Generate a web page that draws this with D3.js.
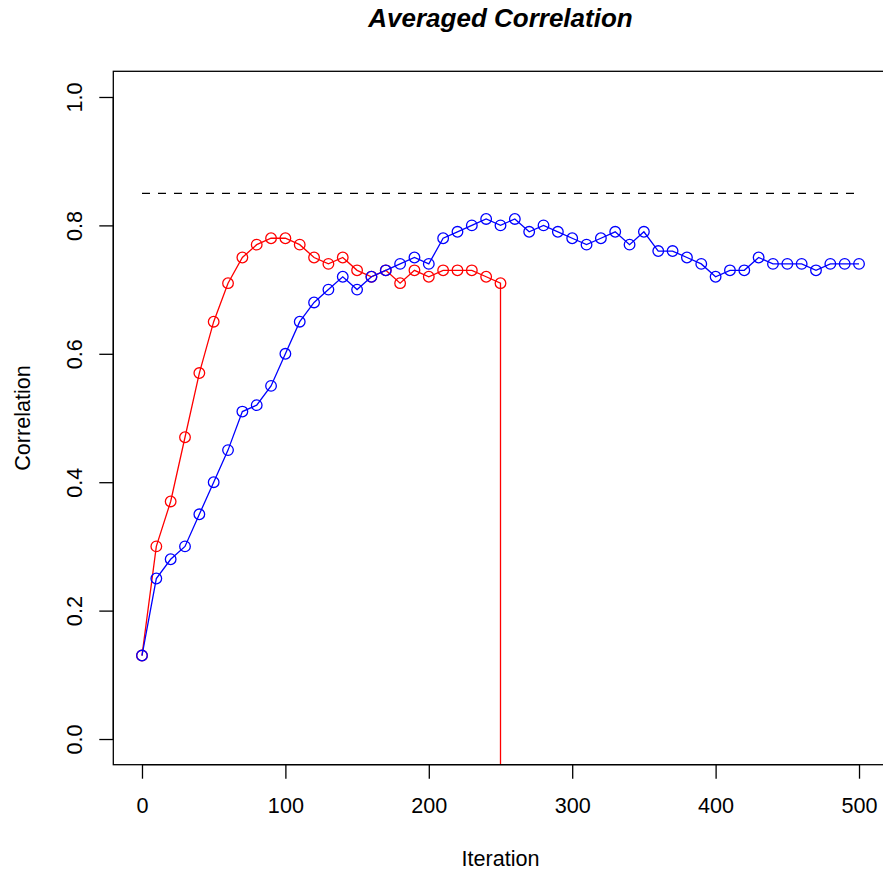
<!DOCTYPE html>
<html>
<head>
<meta charset="utf-8">
<script src="https://cdn.jsdelivr.net/npm/d3@7"></script>
<style>
  body { margin: 0; background: #fff; }
  text { font-family: "Liberation Sans", Arial, sans-serif; }
</style>
</head>
<body>
<svg id="chart"></svg>
<script>
// data
var blueIter = d3.range(0, 501, 10);
var blueVals = [0.13, 0.25, 0.28, 0.30, 0.35, 0.40, 0.45, 0.51, 0.52, 0.55,
                0.60, 0.65, 0.68, 0.70, 0.72, 0.70, 0.72, 0.73, 0.74, 0.75,
                0.74, 0.78, 0.79, 0.80, 0.81, 0.80, 0.81, 0.79, 0.80, 0.79,
                0.78, 0.77, 0.78, 0.79, 0.77, 0.79, 0.76, 0.76, 0.75, 0.74,
                0.72, 0.73, 0.73, 0.75, 0.74, 0.74, 0.74, 0.73, 0.74, 0.74,
                0.74];
// the red run stops at 250 and drops straight off the bottom of the plot
var redIter = d3.range(0, 251, 10).concat([250]);
var redVals = [0.13, 0.30, 0.37, 0.47, 0.57, 0.65, 0.71, 0.75, 0.77, 0.78,
               0.78, 0.77, 0.75, 0.74, 0.75, 0.73, 0.72, 0.73, 0.71, 0.73,
               0.72, 0.73, 0.73, 0.73, 0.72, 0.71, -1];
var refLevel = 0.85;
var xTicks = [0, 100, 200, 300, 400, 500];
var yTicks = [0.0, 0.2, 0.4, 0.6, 0.8, 1.0];

var W = 883, H = 874;

// R style: 4% padding around the data range
var x = d3.scaleLinear().domain([-20, 520]).range([113.3, 887.7]);
var y = d3.scaleLinear().domain([-0.04, 1.04]).range([764.7, 71.3]);

var svg = d3.select("#chart")
    .attr("width", W)
    .attr("height", H);

svg.append("clipPath").attr("id", "plotclip")
  .append("rect")
    .attr("x", x.range()[0]).attr("y", y.range()[1])
    .attr("width", x.range()[1] - x.range()[0])
    .attr("height", y.range()[0] - y.range()[1]);

var plot = svg.append("g").attr("clip-path", "url(#plotclip)");

function series(iter, vals, color) {
    var pts = iter.map(function(d, i) { return {x: d, y: vals[i]}; });
    var line = d3.line()
        .x(function(d) { return x(d.x); })
        .y(function(d) { return y(d.y); });
    plot.append("path")
        .datum(pts)
        .attr("d", line)
        .attr("fill", "none")
        .attr("stroke", color)
        .attr("stroke-width", 1.3);
    plot.selectAll(null)
        .data(pts)
        .enter().append("circle")
        .attr("cx", function(d) { return x(d.x); })
        .attr("cy", function(d) { return y(d.y); })
        .attr("r", 5.3)
        .attr("fill", "none")
        .attr("stroke", color)
        .attr("stroke-width", 1.3);
}

series(redIter, redVals, "#ff0000");
series(blueIter, blueVals, "#0000ff");

// reference level
plot.append("line")
    .attr("x1", x(0)).attr("x2", x(500))
    .attr("y1", y(refLevel)).attr("y2", y(refLevel))
    .attr("stroke", "#000")
    .attr("stroke-width", 1.3)
    .attr("stroke-dasharray", "8,8");

// box
svg.append("rect")
    .attr("x", x.range()[0]).attr("y", y.range()[1])
    .attr("width", x.range()[1] - x.range()[0])
    .attr("height", y.range()[0] - y.range()[1])
    .attr("fill", "none")
    .attr("stroke", "#000")
    .attr("stroke-width", 1.3);

// x axis
var xAxis = svg.append("g")
    .attr("transform", "translate(0," + y.range()[0] + ")")
    .call(d3.axisBottom(x).tickValues(xTicks).tickSize(14)
        .tickFormat(d3.format("d")));
xAxis.select(".domain").attr("d", "M" + x(0) + ",0H" + x(500)).attr("stroke-width", 1.3);
xAxis.selectAll(".tick line").attr("stroke-width", 1.3);
xAxis.selectAll("text")
    .attr("y", 48.3).attr("dy", null)
    .attr("font-size", 21.6)
    .attr("font-family", "Liberation Sans, Arial, sans-serif");

// y axis, labels turned like R's default
var yAxis = svg.append("g")
    .attr("transform", "translate(" + x.range()[0] + ",0)")
    .call(d3.axisLeft(y).tickValues(yTicks).tickSize(14)
        .tickFormat(d3.format(".1f")));
yAxis.select(".domain").attr("d", "M0," + y(0) + "V" + y(1)).attr("stroke-width", 1.3);
yAxis.selectAll(".tick line").attr("stroke-width", 1.3);
yAxis.selectAll("text")
    .attr("x", null).attr("dy", null)
    .attr("transform", "translate(-31.3,0) rotate(-90)")
    .attr("text-anchor", "middle")
    .attr("font-size", 21.6)
    .attr("font-family", "Liberation Sans, Arial, sans-serif");

// titles
svg.append("text")
    .attr("x", (x.range()[0] + x.range()[1]) / 2)
    .attr("y", 27)
    .attr("text-anchor", "middle")
    .attr("font-size", 26)
    .attr("font-weight", "bold")
    .attr("font-style", "italic")
    .text("Averaged Correlation");

svg.append("text")
    .attr("x", (x.range()[0] + x.range()[1]) / 2)
    .attr("y", 866)
    .attr("text-anchor", "middle")
    .attr("font-size", 21.6)
    .text("Iteration");

svg.append("text")
    .attr("transform", "translate(30," + ((y.range()[0] + y.range()[1]) / 2) + ") rotate(-90)")
    .attr("text-anchor", "middle")
    .attr("font-size", 21.6)
    .text("Correlation");
</script>
</body>
</html>
